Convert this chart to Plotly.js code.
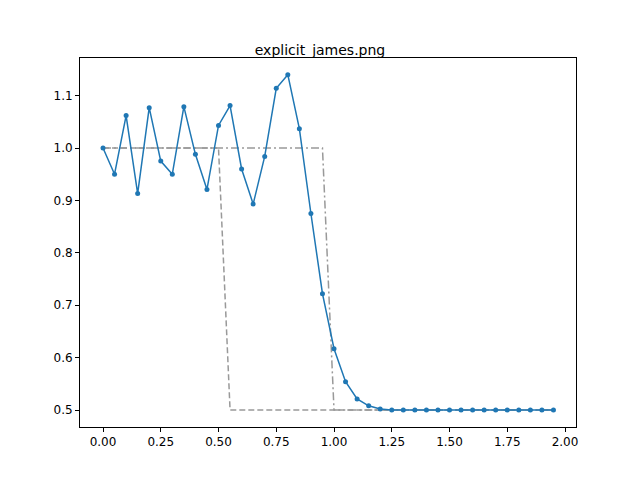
<!DOCTYPE html>
<html>
<head>
<script src="https://cdn.plot.ly/plotly-3.0.1.min.js"></script>
<style>body{margin:0}</style>
</head>
<body>
<div id="plot" style="width:640px;height:480px"></div>
<script>
const xs = [0,0.05,0.1,0.15,0.2,0.25,0.3,0.35,0.4,0.45,0.5,0.55,0.6,0.65,0.7,0.75,0.8,0.85,0.9,0.95,
  1.0,1.05,1.1,1.15,1.2,1.25,1.3,1.35,1.4,1.45,1.5,1.55,1.6,1.65,1.7,1.75,1.8,1.85,1.9,1.95];
const solution = [1.0,0.95,1.062,0.913,1.077,0.975,0.95,1.079,0.988,0.921,1.043,1.081,0.96,0.893,0.984,1.114,1.14,1.037,0.875,0.722,
  0.617,0.554,0.521,0.508,0.502,0.5,0.5,0.5,0.5,0.5,0.5,0.5,0.5,0.5,0.5,0.5,0.5,0.5,0.5,0.5];
const initX = [0,0.5,0.55,1.95];
const initY = [1.0,1.0,0.5,0.5];
const exactX = [0,0.95,1.0,1.95];
const exactY = [1.0,1.0,0.5,0.5];

const font = {family: 'DejaVu Sans', size: 12, color: '#000'};
const data = [
  {x: initX, y: initY, mode: 'lines', line: {color: '#999', width: 1.5, dash: '6px,3px'}},
  {x: exactX, y: exactY, mode: 'lines', line: {color: '#999', width: 1.5, dash: '8px,3px,2px,3px'}},
  {x: xs, y: solution, mode: 'lines+markers', line: {color: '#1f77b4', width: 1.5},
   marker: {color: '#1f77b4', size: 5}}
];
const axis = {showgrid: false, zeroline: false, showline: true, mirror: true, linecolor: '#000',
  linewidth: 1, ticks: 'outside', ticklen: 4, tickcolor: '#000', tickfont: font};
const layout = {
  width: 640, height: 480, showlegend: false,
  margin: {l: 80, r: 64, t: 58, b: 53},
  paper_bgcolor: '#fff', plot_bgcolor: '#fff',
  title: {text: 'explicit_james.png', font: {family: 'DejaVu Sans', size: 14, color: '#000'}, x: 0.5, y: 0.885, yanchor: 'bottom'},
  xaxis: Object.assign({}, axis, {range: [-0.0996, 2.0476], tickvals: [0,0.25,0.5,0.75,1,1.25,1.5,1.75,2],
    ticktext: ['0.00','0.25','0.50','0.75','1.00','1.25','1.50','1.75','2.00']}),
  yaxis: Object.assign({}, axis, {range: [0.4676, 1.1718], tickvals: [0.5,0.6,0.7,0.8,0.9,1.0,1.1],
    ticktext: ['0.5','0.6','0.7','0.8','0.9','1.0','1.1']})
};
Plotly.newPlot('plot', data, layout, {staticPlot: true});
</script>
</body>
</html>
